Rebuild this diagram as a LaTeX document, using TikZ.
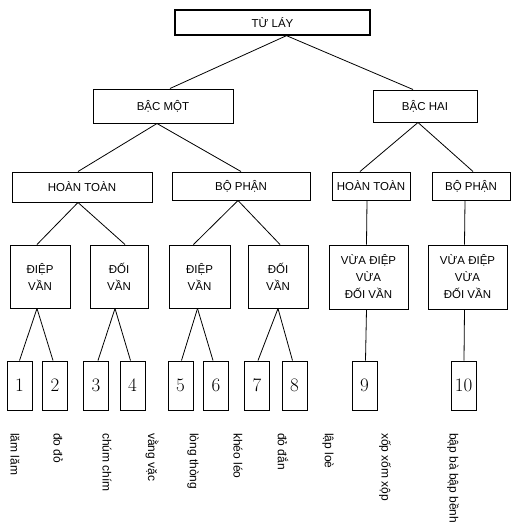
\documentclass[tikz,border=0pt]{standalone}
\usepackage{fontspec}
\setsansfont{Liberation Sans}

\begin{document}
\begin{tikzpicture}[x=1pt, y=-1pt,
  box/.style={draw=black, line width=1pt, fill=white, align=center, inner sep=1pt, font=\sffamily\fontsize{11.5}{17}\selectfont},
  numbox/.style={draw=black, line width=1pt, fill=white, minimum width=25pt, minimum height=49pt, inner sep=0pt, font=\fontsize{19}{20}\selectfont},
  word/.style={rotate=-90, anchor=west, inner sep=0pt, font=\sffamily\fontsize{12}{14}\selectfont},
  link/.style={line width=0.8pt, black}
]
  \useasboundingbox (0,0) rectangle (511,523);

  \node[box, line width=1.3pt, minimum width=195pt, minimum height=25pt] (tulay) at (272.5,22.5) {TỪ LÁY};
  \node[box, minimum width=140pt, minimum height=34pt] (bacmot) at (163,106) {BẬC MỘT};
  \node[box, minimum width=104pt, minimum height=32pt] (bachai) at (425,106) {BẬC HAI};

  \node[box, minimum width=140pt, minimum height=30pt] (hoantoanA) at (82,187) {HOÀN TOÀN};
  \node[box, minimum width=138pt, minimum height=28pt] (bophanA) at (241,186) {BỘ PHẬN};
  \node[box, minimum width=78pt, minimum height=28pt] (hoantoanB) at (371,186) {HOÀN TOÀN};
  \node[box, minimum width=78pt, minimum height=28pt] (bophanB) at (471,186) {BỘ PHẬN};

  \node[box, minimum width=60pt, minimum height=63pt] (diepA) at (40,276.5) {ĐIỆP\\VẦN};
  \node[box, minimum width=58pt, minimum height=63pt] (doiA) at (119,276.5) {ĐỐI\\VẦN};
  \node[box, minimum width=61pt, minimum height=63pt] (diepB) at (199.5,276.5) {ĐIỆP\\VẦN};
  \node[box, minimum width=60pt, minimum height=63pt] (doiB) at (278,276.5) {ĐỐI\\VẦN};
  \node[box, minimum width=79pt, minimum height=64pt] (vuaA) at (368.5,277) {VỪA ĐIỆP\\VỪA\\ĐỐI VẦN};
  \node[box, minimum width=79pt, minimum height=64pt] (vuaB) at (467.5,277) {VỪA ĐIỆP\\VỪA\\ĐỐI VẦN};

  \node[numbox] (n1) at (19.5,385.5) {1};
  \node[numbox] (n2) at (55,385.5) {2};
  \node[numbox] (n3) at (96,385.5) {3};
  \node[numbox] (n4) at (132.5,385.5) {4};
  \node[numbox] (n5) at (180.5,385.5) {5};
  \node[numbox] (n6) at (216,385.5) {6};
  \node[numbox] (n7) at (257,385.5) {7};
  \node[numbox] (n8) at (294.5,385.5) {8};
  \node[numbox] (n9) at (364.5,385.5) {9};
  \node[numbox] (n10) at (463.5,385.5) {10};

  % level links
  \draw[link] ([xshift=14pt]tulay.south) -- ([xshift=7pt]bacmot.north);
  \draw[link] ([xshift=14pt]tulay.south) -- ([xshift=-12pt]bachai.north);
  \draw[link] ([xshift=-6pt]bacmot.south) -- ([xshift=-4pt]hoantoanA.north);
  \draw[link] ([xshift=-6pt]bacmot.south) -- (bophanA.north);
  \draw[link] ([xshift=-7pt]bachai.south) -- ([xshift=-11pt]hoantoanB.north);
  \draw[link] ([xshift=-7pt]bachai.south) -- ([xshift=2pt]bophanB.north);

  \draw[link] ([xshift=-4pt]hoantoanA.south) -- ([xshift=-3pt]diepA.north);
  \draw[link] ([xshift=-4pt]hoantoanA.south) -- ([xshift=6pt]doiA.north);
  \draw[link] ([xshift=-3pt]bophanA.south) -- ([xshift=-6pt]diepB.north);
  \draw[link] ([xshift=-3pt]bophanA.south) -- ([xshift=2pt]doiB.north);
  \draw[link] ([xshift=-4pt]hoantoanB.south) -- ([xshift=-2pt]vuaA.north);
  \draw[link] ([xshift=-6pt]bophanB.south) -- ([xshift=-3pt]vuaB.north);

  \draw[link] ([xshift=-3pt]diepA.south) -- (n1.north);
  \draw[link] ([xshift=-3pt]diepA.south) -- ([xshift=-2pt]n2.north);
  \draw[link] ([xshift=-4pt]doiA.south) -- ([xshift=2pt]n3.north);
  \draw[link] ([xshift=-4pt]doiA.south) -- ([xshift=-2pt]n4.north);
  \draw[link] ([xshift=-2pt]diepB.south) -- ([xshift=1pt]n5.north);
  \draw[link] ([xshift=-2pt]diepB.south) -- ([xshift=-3pt]n6.north);
  \draw[link] (doiB.south) -- ([xshift=1pt]n7.north);
  \draw[link] (doiB.south) -- ([xshift=-2pt]n8.north);
  \draw[link] ([xshift=-2pt]vuaA.south) -- ([xshift=1pt]n9.north);
  \draw[link] ([xshift=-3pt]vuaB.south) -- ([xshift=0.5pt]n10.north);

  % words under the boxes
  \node[word] (w1) at (15,433) {lăm lăm};
  \node[word] (w2) at (58,433) {đo đỏ};
  \node[word] (w3) at (107,433) {chúm chím};
  \node[word] (w4) at (152,433) {vằng vặc};
  \node[word] (w5) at (193,433) {lòng thòng};
  \node[word] (w6) at (238,433) {khéo léo};
  \node[word] (w7) at (283,433) {đỏ đắn};
  \node[word] (w8) at (328,433) {lập loè};
  \node[word] (w9) at (385,433) {xốp xốm xộp};
  \node[word] (w10) at (453,433) {bập bà bập bềnh};
\end{tikzpicture}
\end{document}
